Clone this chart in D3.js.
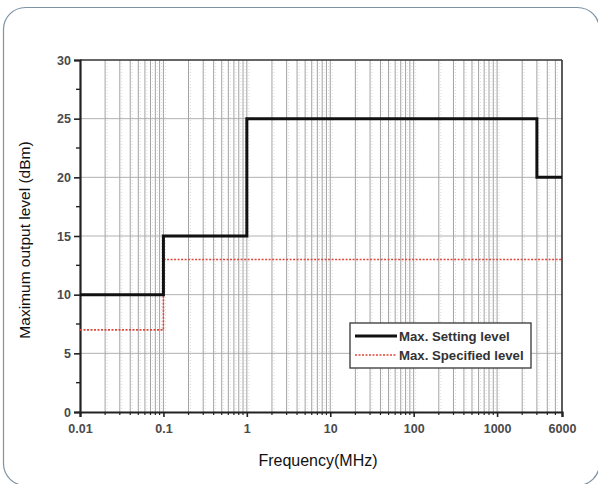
<!DOCTYPE html>
<html>
<head>
<meta charset="utf-8">
<script src="https://cdn.jsdelivr.net/npm/d3@7"></script>
<style>
  body { margin: 0; background: #fff; }
  svg { display: block; font-family: Arial, "Liberation Sans", sans-serif; }
</style>
</head>
<body>
<script>
// Data
const settingFreq = [0.01, 0.1, 1, 3000, 6000];
const settingLevel = [10, 15, 25, 20, 20];
const specifiedFreq = [0.01, 0.1, 6000];
const specifiedLevel = [7, 13, 13];
const xTickValues = [0.01, 0.1, 1, 10, 100, 1000, 6000];
const xTickLabels = ['0.01', '0.1', '1', '10', '100', '1000', '6000'];
const yTickValues = [0, 5, 10, 15, 20, 25, 30];
const legendLabels = ['Max. Setting level', 'Max. Specified level'];

const fullWidth = 598;
const fullHeight = 484;
const margin = { top: 60, right: 36, bottom: 72, left: 80 };
const width = fullWidth - margin.left - margin.right;
const height = fullHeight - margin.top - margin.bottom;

const svg = d3.select('body')
  .append('svg')
  .attr('width', fullWidth)
  .attr('height', fullHeight);

// rounded page frame
svg.append('rect')
  .attr('x', 3.5)
  .attr('y', 7.5)
  .attr('width', 596)
  .attr('height', 478)
  .attr('rx', 22)
  .attr('fill', 'none')
  .attr('stroke', '#7f93a3')
  .attr('stroke-width', 1.2);

const x = d3.scaleLog()
  .domain([0.01, 6000])
  .range([0, width]);

const y = d3.scaleLinear()
  .domain([0, 30])
  .range([height, 0]);

const g = svg.append('g')
  .attr('transform', `translate(${margin.left}, ${margin.top})`);

// log grid: every 1..9 in each decade
const minorX = [];
for (let e = -2; e <= 3; e++) {
  for (let m = 1; m <= 9; m++) {
    const v = m * Math.pow(10, e);
    if (v > 0.01 && v < 6000) minorX.push(v);
  }
}

g.append('g')
  .selectAll('line')
  .data(minorX)
  .enter()
  .append('line')
  .attr('x1', d => x(d))
  .attr('x2', d => x(d))
  .attr('y1', 0)
  .attr('y2', height)
  .attr('stroke', '#999')
  .attr('stroke-width', 0.9);

// faint dotted companion grid
g.append('g')
  .selectAll('line')
  .data(minorX)
  .enter()
  .append('line')
  .attr('x1', d => x(d) + 2)
  .attr('x2', d => x(d) + 2)
  .attr('y1', 0)
  .attr('y2', height)
  .attr('stroke', '#d0d0d0')
  .attr('stroke-width', 0.7)
  .attr('stroke-dasharray', '1,2');

g.append('g')
  .selectAll('line')
  .data(yTickValues.filter(d => d > 0 && d < 30))
  .enter()
  .append('line')
  .attr('x1', 0)
  .attr('x2', width)
  .attr('y1', d => y(d))
  .attr('y2', d => y(d))
  .attr('stroke', '#a8a8a8')
  .attr('stroke-width', 0.9);

// frame top and right
g.append('line')
  .attr('x1', 0).attr('x2', width)
  .attr('y1', 0).attr('y2', 0)
  .attr('stroke', '#333').attr('stroke-width', 1.6);
g.append('line')
  .attr('x1', width).attr('x2', width)
  .attr('y1', 0).attr('y2', height)
  .attr('stroke', '#333').attr('stroke-width', 1.6);

// axes
const xAxis = d3.axisBottom(x)
  .tickValues(xTickValues)
  .tickFormat((d, i) => xTickLabels[i])
  .tickSize(5)
  .tickPadding(7);

const gx = g.append('g')
  .attr('transform', `translate(0, ${height})`)
  .call(xAxis);

gx.append('g')
  .selectAll('line')
  .data(minorX.filter(d => !xTickValues.includes(d)))
  .enter()
  .append('line')
  .attr('x1', d => x(d))
  .attr('x2', d => x(d))
  .attr('y1', 0)
  .attr('y2', 3)
  .attr('stroke', '#222')
  .attr('stroke-width', 1.2);

const yAxis = d3.axisLeft(y)
  .tickValues(yTickValues)
  .tickSize(6)
  .tickPadding(3);

const gy = g.append('g').call(yAxis);

gy.append('g')
  .selectAll('line')
  .data(d3.range(2.5, 30, 5))
  .enter()
  .append('line')
  .attr('x1', 0)
  .attr('x2', -4)
  .attr('y1', d => y(d))
  .attr('y2', d => y(d))
  .attr('stroke', '#222')
  .attr('stroke-width', 1.4);

[gx, gy].forEach(a => {
  a.select('.domain').attr('stroke', '#222').attr('stroke-width', 2.2);
  a.selectAll('.tick line').attr('stroke', '#222').attr('stroke-width', 1.6);
  a.selectAll('.tick text')
    .attr('fill', '#4a4a4a')
    .style('font-size', '12.5px')
    .style('font-weight', 'bold');
});

// series
const line = d3.line()
  .x(d => x(d[0]))
  .y(d => y(d[1]))
  .curve(d3.curveStepAfter);

g.append('path')
  .datum(specifiedFreq.map((f, i) => [f, specifiedLevel[i]]))
  .attr('d', line)
  .attr('fill', 'none')
  .attr('stroke', '#e0463c')
  .attr('stroke-width', 1.6)
  .attr('stroke-dasharray', '2,1.5');

g.append('path')
  .datum(settingFreq.map((f, i) => [f, settingLevel[i]]))
  .attr('d', line)
  .attr('fill', 'none')
  .attr('stroke', '#111')
  .attr('stroke-width', 3);

// legend
const leg = g.append('g')
  .attr('transform', `translate(${350 - margin.left}, ${323 - margin.top})`);

leg.append('rect')
  .attr('width', 181)
  .attr('height', 45)
  .attr('fill', '#fff')
  .attr('stroke', '#444')
  .attr('stroke-width', 1.4);

leg.append('line')
  .attr('x1', 5).attr('x2', 47)
  .attr('y1', 13).attr('y2', 13)
  .attr('stroke', '#111').attr('stroke-width', 3);

leg.append('line')
  .attr('x1', 5).attr('x2', 47)
  .attr('y1', 32).attr('y2', 32)
  .attr('stroke', '#e0463c').attr('stroke-width', 1.6)
  .attr('stroke-dasharray', '2,1.5');

leg.selectAll('text')
  .data(legendLabels)
  .enter()
  .append('text')
  .attr('x', 49)
  .attr('y', (d, i) => 17.5 + i * 19)
  .attr('fill', '#333')
  .style('font-size', '13.2px')
  .style('font-weight', 'bold')
  .text(d => d);

// axis titles
svg.append('text')
  .attr('x', 318)
  .attr('y', 466)
  .attr('text-anchor', 'middle')
  .style('font-size', '16px')
  .attr('fill', '#111')
  .text('Frequency(MHz)');

svg.append('text')
  .attr('transform', 'translate(30, 240) rotate(-90)')
  .attr('text-anchor', 'middle')
  .style('font-size', '15.5px')
  .attr('fill', '#111')
  .text('Maximum output level (dBm)');
</script>
</body>
</html>
